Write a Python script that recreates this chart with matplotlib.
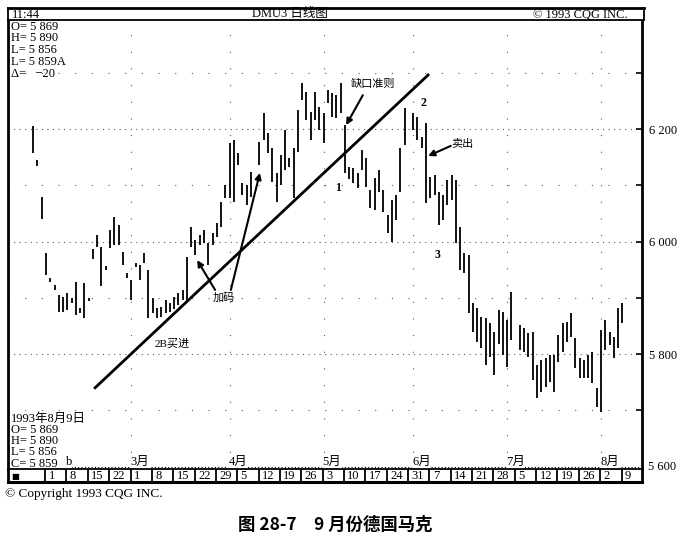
import matplotlib
matplotlib.use('Agg')
import matplotlib.pyplot as plt

plt.rcParams['font.family'] = ['Liberation Serif', 'Noto Sans CJK SC', 'DejaVu Sans']

W, H = 684, 541


def fx(x):
    return x / W


def fy(y):
    return 1 - y / H


# trading-day index (0 = 1993-02-01), daily high / low
days = [-3, -2, -1, 0, 1, 2, 3, 4, 5, 6, 7, 8, 9, 10, 11, 12, 13, 14, 15, 16, 17, 18, 19,
        20, 21, 22, 23, 24, 25, 26, 27, 28, 29, 30, 31, 32, 33, 34, 35, 36, 37, 38, 39,
        40, 41, 42, 43, 44, 45, 46, 47, 48, 50, 51, 52, 53, 54, 55, 56, 57, 58, 59, 60,
        61, 62, 63, 64, 65, 66, 67, 68, 69, 70, 71, 72, 73, 74, 75, 76, 77, 78, 79, 80,
        81, 82, 83, 84, 86, 87, 88, 89, 90, 91, 92, 93, 94, 95, 96, 97, 98, 99, 100,
        101, 102, 103, 104, 105, 106, 107, 108, 109, 111, 112, 113, 114, 115, 116, 117,
        118, 119, 120, 121, 122, 123, 124, 125, 126, 127, 128, 129, 130, 131, 132, 133,
        134, 135]
highs = [6205, 6145, 6079, 5980, 5935, 5923, 5905, 5902, 5909, 5900, 5928, 5882, 5926, 5900,
         5987, 6012, 5990, 5956, 6020, 6044, 6029, 5981, 5944, 5932, 5962, 5958, 5980, 5949,
         5900, 5882, 5884, 5896, 5891, 5902, 5909, 5914, 5972, 6026, 6003, 6012, 6020, 5997,
         6015, 6033, 6070, 6100, 6175, 6180, 6157, 6104, 6100, 6124, 6177, 6228, 6193, 6166,
         6122, 6154, 6198, 6148, 6166, 6234, 6282, 6266, 6230, 6266, 6239, 6228, 6269, 6264,
         6260, 6282, 6207, 6132, 6131, 6122, 6163, 6148, 6091, 6113, 6127, 6091, 6047, 6074,
         6083, 6166, 6237, 6228, 6221, 6186, 6211, 6115, 6118, 6088, 6083, 6109, 6118, 6109,
         6026, 5980, 5976, 5891, 5882, 5866, 5864, 5855, 5839, 5878, 5875, 5860, 5910, 5851,
         5846, 5837, 5839, 5780, 5789, 5793, 5798, 5798, 5834, 5855, 5857, 5873, 5828, 5793,
         5789, 5798, 5804, 5740, 5843, 5860, 5839, 5830, 5882, 5890]
lows = [6157, 6134, 6040, 5940, 5928, 5914, 5875, 5875, 5878, 5891, 5870, 5873, 5864, 5895,
        5969, 5990, 5921, 5950, 5988, 5994, 5994, 5958, 5935, 5896, 5955, 5932, 5962, 5864,
        5873, 5864, 5866, 5873, 5875, 5880, 5887, 5896, 5896, 5990, 5976, 5994, 5997, 5958,
        5994, 6008, 6026, 6077, 6077, 6070, 6136, 6083, 6065, 6079, 6136, 6180, 6157, 6106,
        6070, 6100, 6127, 6132, 6077, 6159, 6252, 6216, 6180, 6216, 6198, 6175, 6246, 6221,
        6220, 6228, 6122, 6112, 6104, 6095, 6127, 6097, 6060, 6056, 6088, 6052, 6015, 6000,
        6038, 6088, 6172, 6198, 6180, 6166, 6068, 6077, 6083, 6029, 6038, 6065, 6074, 5997,
        5949, 5944, 5873, 5839, 5821, 5811, 5780, 5795, 5763, 5817, 5798, 5777, 5825, 5807,
        5804, 5795, 5754, 5722, 5732, 5741, 5750, 5732, 5786, 5804, 5821, 5830, 5775, 5757,
        5757, 5757, 5748, 5706, 5697, 5807, 5816, 5793, 5811, 5856]

week_days = list(range(0, 136, 5))
week_labels = ['1', '8', '15', '22', '1', '8', '15', '22', '29', '5', '12', '19', '26', '3',
               '10', '17', '24', '31', '7', '14', '21', '28', '5', '12', '19', '26', '2', '9']
month_days = [20, 43, 65, 86, 108, 130]
month_labels = ['3月', '4月', '5月', '6月', '7月', '8月']

price_ticks = [5700, 5800, 5900, 6000, 6100, 6200, 6300]
price_labels = ['', '5 800', '', '6 000', '', '6 200', '']

trend_x = [11.5, 89.5]
trend_y = [5740, 6296]

top_info = ['O= 5 869', 'H= 5 890', 'L= 5 856', 'L= 5 859A', 'Δ=   −20']
bottom_info = ['1993年8月9日', 'O= 5 869', 'H= 5 890', 'L= 5 856', 'C= 5 859']

fig = plt.figure(figsize=(6.84, 5.41), dpi=100)

# main price panel
ax = fig.add_axes([fx(8), fy(469), (642 - 8) / W, (469 - 20) / H])
ax.set_xlim(-8.9, 139.6)
ax.set_ylim(5595.6, 6393.8)
for side in ['left', 'right']:
    ax.spines[side].set_linewidth(2)
ax.spines['top'].set_visible(False)
ax.spines['bottom'].set_visible(False)
ax.set_xticks([])
ax.yaxis.tick_right()
ax.set_yticks(price_ticks)
ax.set_yticklabels(price_labels)
ax.tick_params(axis='y', direction='in', length=4, width=1.2, pad=5, labelsize=9)
ax.text(1.01, 5600, '5 600', transform=ax.get_yaxis_transform(), va='center', fontsize=9)

for p in price_ticks:
    ls = (0, (1, 4)) if p % 200 == 0 else (0, (1, 14))
    ax.axhline(p, color='0.35', lw=0.8, ls=ls, zorder=0)
for d in month_days:
    ax.axvline(d, color='0.35', lw=0.8, ls=(0, (1, 14)), zorder=0)

ax.vlines(days, lows, highs, color='black', lw=1.3)
ax.plot(trend_x, trend_y, color='black', lw=2)

# month row with dotted leaders
ax.plot([5.8, 139], [5599, 5599], color='black', lw=0.8, ls=(0, (1, 2)), clip_on=False)
ax.text(4.6, 5597, 'b', fontsize=9, va='bottom', ha='left',
        bbox=dict(fc='white', ec='none', pad=0.3))
for d, lab in zip(month_days, month_labels):
    ax.text(d + 2, 5597, lab, fontsize=9, va='bottom', ha='center',
            bbox=dict(fc='white', ec='none', pad=0.3))

# annotations
cjk = ['Noto Sans CJK SC']
arrow = dict(arrowstyle='-|>', lw=1.5, color='black', mutation_scale=9, shrinkA=0, shrinkB=0)
ax.text(76.6, 6280, '缺口准则', family=cjk, fontsize=8, ha='center', va='center')
ax.annotate('', xy=(70.3, 6207), xytext=(74.2, 6260), arrowprops=arrow)
ax.text(97.6, 6173, '卖出', family=cjk, fontsize=8, ha='center', va='center')
ax.annotate('', xy=(89.5, 6152), xytext=(94.8, 6170), arrowprops=arrow)
ax.text(41.7, 5900, '加码', family=cjk, fontsize=8, ha='center', va='center')
ax.annotate('', xy=(35.4, 5967), xytext=(39.6, 5914), arrowprops=arrow)
ax.annotate('', xy=(50.1, 6122), xytext=(43.3, 5914), arrowprops=arrow)
ax.text(29.5, 5818, '2B买进', fontsize=8, ha='center', va='center')
ax.text(88.5, 6246, '2', fontsize=8.5, fontweight='bold', ha='center', va='center')
ax.text(68.4, 6095, '1', fontsize=8.5, fontweight='bold', ha='center', va='center')
ax.text(91.8, 5976, '3', fontsize=8.5, fontweight='bold', ha='center', va='center')

for i, t in enumerate(top_info):
    fig.text(fx(11), fy(26.5 + 11.8 * i), t, fontsize=9, va='center')
for i, t in enumerate(bottom_info):
    fig.text(fx(11), fy(418.5 + 11.3 * i), t, fontsize=9, va='center')

# header strip
hax = fig.add_axes([fx(8), fy(20), (644 - 8) / W, 12 / H])
hax.set_xticks([])
hax.set_yticks([])
hax.spines['top'].set_linewidth(2)
for side in ['left', 'right', 'bottom']:
    hax.spines[side].set_linewidth(1.3)
fig.text(fx(12), fy(14.5), '11:44', fontsize=9, va='center')
fig.text(fx(290), fy(14.5), 'DMU3 日线图', fontsize=9, va='center', ha='center')
fig.text(fx(580), fy(14.5), '© 1993 CQG INC.', fontsize=9, va='center', ha='center')

# week boxes
bax = fig.add_axes([fx(8), fy(482), (642 - 8) / W, 13 / H])
bax.set_xlim(-8.9, 139.6)
bax.set_ylim(0, 1)
bax.set_xticks([])
bax.set_yticks([])
bax.spines['top'].set_linewidth(1.3)
bax.spines['bottom'].set_linewidth(2.2)
bax.spines['left'].set_linewidth(2)
bax.spines['right'].set_linewidth(2)
bax.vlines([d - 0.2 for d in week_days], 0, 1, color='black', lw=1.3)
for d, lab in zip(week_days, week_labels):
    bax.text(d + 0.6, 0.45, lab, fontsize=9, va='center', ha='left')
bax.text(-8.2, 0.45, '■', fontsize=6, va='center', ha='left', family=['DejaVu Sans'])

fig.text(fx(5), fy(494), '© Copyright 1993 CQG INC.', fontsize=9.5, va='center')
fig.text(fx(335), fy(525), '图 28-7　9 月份德国马克', family=cjk, fontsize=12.5,
         fontweight='bold', ha='center', va='center')

fig.savefig('out.png', dpi=100)
